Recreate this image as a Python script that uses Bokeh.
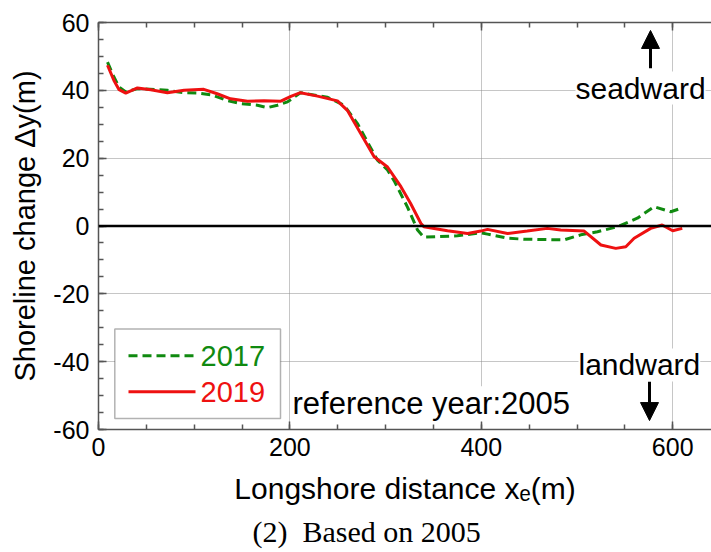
import math
from bokeh.plotting import figure
from bokeh.models import (Range1d, LinearAxis, SingleIntervalTicker, FixedTicker, Span,
                          Label, Arrow, NormalHead, BoxAnnotation, Title, CustomJSTickFormatter)
from bokeh.embed import file_html
from bokeh.resources import INLINE

# ---------------- data ----------------
x_2017 = [9.4, 16, 21.5, 28.5, 40.7, 61.6, 72, 89.5, 103.4, 117.3, 134.8, 148.7, 166, 176.6,
          187, 197.5, 211, 239, 256.6, 270.6, 281, 291.5, 302, 309, 323, 333.4, 340, 375,
          399.5, 406.5, 427.4, 444.7, 486.5, 504, 521.4, 542.3, 563, 580.6, 598, 608.5]
y_2017 = [48.3, 44, 41, 39.5, 40.5, 40.2, 40, 39.3, 39.2, 38.7, 37, 36.1, 35.6, 34.9,
          35.6, 36.6, 39.3, 38, 35.6, 30.2, 24.8, 19.4, 16.5, 13.3, 5.5, -1.2, -3.3, -2.9,
          -2, -2.4, -3.6, -3.9, -4.1, -2.6, -1.7, -0.2, 2.3, 5.7, 4.2, 5.2]

x_2019 = [9.4, 16, 21.5, 28.5, 40.7, 54.6, 72, 89.5, 110, 124, 138, 155.7, 173, 190.5,
          201, 211, 228.8, 249.7, 260, 274, 288, 302, 316, 326, 336.8, 340, 364.7, 385.6,
          399.5, 406.5, 427.4, 448, 469, 483, 507.5, 525, 540.5, 551, 559.7, 577, 589, 600, 610]
y_2019 = [47.4, 43, 40.2, 39.2, 40.7, 40.2, 39.3, 40, 40.3, 39, 37.5, 36.8, 36.9, 36.8,
          38.2, 39.3, 38.3, 36.9, 34.1, 27.3, 20.4, 17.4, 11.6, 6.7, 0.8, -0.2, -1.4, -2.2,
          -1.5, -1.0, -2.2, -1.5, -0.7, -1.2, -1.5, -5.6, -6.6, -6.1, -3.6, -0.7, 0.3, -1.4, -0.7]

series_names = ["2017", "2019"]
x_ticks_major = 200
y_ticks_major = 20
y_grid = [-40, -20, 20, 40]
x_grid = [200, 400, 600]

# ---------------- layout ----------------
W, H = 711, 552
FL, FT = 98, 22          # frame left / top
FW, FH = W - FL, 410     # frame size
XMAX = FW / 0.957
YMIN, YMAX = -60, 60

def dx(px):  # page pixel -> data x
    return (px - FL) / FW * XMAX

def dy(py):  # page pixel -> data y
    return YMAX - (py - FT) / FH * (YMAX - YMIN)

SANS = "Liberation Sans"
GREEN = "#108a10"
RED = "#ee1111"
AX = "#555555"

p = figure(width=W, height=H, output_backend="svg", toolbar_location=None,
           x_range=Range1d(0, XMAX), y_range=Range1d(YMIN, YMAX),
           x_axis_location=None, y_axis_location=None,
           min_border_left=FL, min_border_top=FT, min_border_right=0,
           min_border_bottom=H - FT - FH)
p.outline_line_color = None
p.background_fill_color = "white"

fmt = CustomJSTickFormatter(code="return tick.toFixed(0);")

def style_axis(ax, labels=True):
    ax.axis_line_color = AX
    ax.axis_line_width = 1.5
    ax.major_tick_line_color = AX
    ax.minor_tick_line_color = AX
    ax.major_tick_line_width = 1.5
    ax.minor_tick_line_width = 1.5
    ax.major_tick_in = 8
    ax.major_tick_out = 0
    ax.minor_tick_in = 5
    ax.minor_tick_out = 0
    if labels:
        ax.formatter = fmt
        ax.major_label_text_font = SANS
        ax.major_label_text_font_size = "25px"
        ax.major_label_text_color = "black"
        ax.axis_label_text_font = SANS
        ax.axis_label_text_font_size = "29px"
        ax.axis_label_text_font_style = "normal"
        ax.axis_label_text_color = "black"
    else:
        ax.major_label_text_font_size = "0px"
        ax.major_label_text_alpha = 0

xb = LinearAxis(ticker=SingleIntervalTicker(interval=x_ticks_major, num_minor_ticks=4))
style_axis(xb)
xb.major_label_standoff = 8
xb.axis_label = "Longshore distance x\u2091(m)"
xb.axis_label_text_font_size = "30px"
xb.axis_label_standoff = 13
p.add_layout(xb, "below")

xt = LinearAxis(ticker=SingleIntervalTicker(interval=x_ticks_major, num_minor_ticks=4))
style_axis(xt, labels=False)
xt.major_label_standoff = 0
p.add_layout(xt, "above")

yl = LinearAxis(ticker=SingleIntervalTicker(interval=y_ticks_major, num_minor_ticks=4))
style_axis(yl)
yl.major_label_standoff = 9
yl.axis_label = "Shoreline change \u0394y(m)"
yl.axis_label_standoff = 9
p.add_layout(yl, "left")

cap = Title(text="(2)\u00a0\u00a0Based on 2005", align="left", offset=154,
            text_font="Liberation Serif", text_font_size="30px", text_font_style="normal",
            text_color="black", standoff=10)
p.add_layout(cap, "below")

# grids (dotted)
p.xgrid.ticker = FixedTicker(ticks=x_grid)
p.ygrid.ticker = FixedTicker(ticks=y_grid)
for g in (p.xgrid, p.ygrid):
    g.grid_line_color = "#8c8c8c"
    g.grid_line_dash = "1 1"
    g.grid_line_width = 1

p.add_layout(Span(location=0, dimension="width", line_color="black", line_width=2.5))

# series
p.line(x_2017, y_2017, line_color=GREEN, line_width=3, line_dash="9 5")
p.line(x_2019, y_2019, line_color=RED, line_width=3)

# legend (manual)
box = BoxAnnotation(left=dx(114.3), right=dx(280), top=dy(330.7), bottom=dy(421),
                    fill_color="white", fill_alpha=1, line_color="black", line_width=1.5)
p.add_layout(box)
p.line([dx(128), dx(195)], [dy(357.7), dy(357.7)], line_color=GREEN, line_width=3,
       line_dash="9 5", level="overlay")
p.line([dx(128), dx(195)], [dy(394), dy(394)], line_color=RED, line_width=3,
       level="overlay")
for name, col, yy in ((series_names[0], GREEN, 357.7), (series_names[1], RED, 394)):
    p.add_layout(Label(x=dx(200), y=dy(yy), text=name, text_color=col, text_font=SANS,
                       text_font_size="29px", text_baseline="middle", text_align="left",
                       level="overlay"))

# annotation texts
def txt(x, y, s, size="30px", align="left", baseline="middle"):
    lab = Label(x=x, y=y, text=s, text_font=SANS, text_font_size=size, text_color="black",
                text_align=align, text_baseline=baseline,
                background_fill_color="white", background_fill_alpha=1)
    p.add_layout(lab)
    return lab

txt(dx(575), dy(88), "seadward")
txt(dx(578), dy(367), "landward")
txt(dx(292), dy(406), "reference year:2005", size="31px")

# arrows
p.add_layout(Arrow(end=NormalHead(size=18, fill_color="black", line_color="black"),
                   x_start=dx(650), y_start=dy(68), x_end=dx(650), y_end=dy(30),
                   line_width=3, line_color="black"))
p.add_layout(Arrow(end=NormalHead(size=18, fill_color="black", line_color="black"),
                   x_start=dx(649), y_start=dy(384), x_end=dx(649), y_end=dy(423),
                   line_width=3, line_color="black"))

open("out.html", "w").write(file_html(p, INLINE))
